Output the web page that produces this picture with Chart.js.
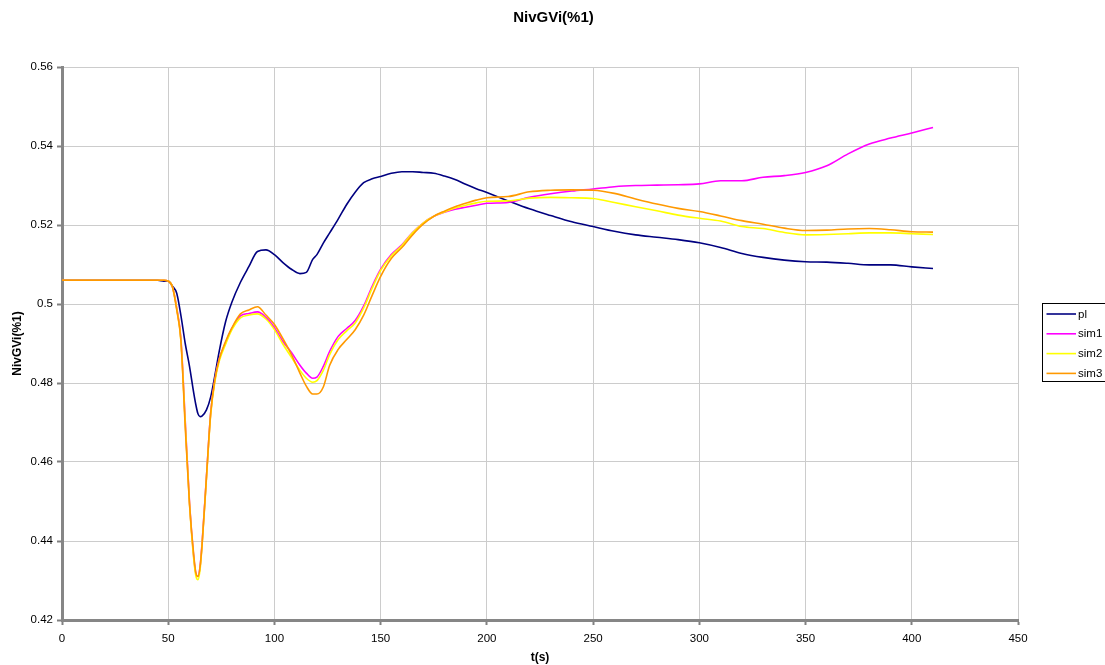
<!DOCTYPE html>
<html>
<head>
<meta charset="utf-8">
<title>NivGVi(%1)</title>
<script src="https://cdn.jsdelivr.net/npm/chart.js@4/dist/chart.umd.min.js"></script>
<style>
  html, body { margin: 0; padding: 0; background: #fff; overflow: hidden; }
  canvas { display: block; }
</style>
</head>
<body>
<canvas id="chart" width="1105" height="665"></canvas>
<script>
// Labels
const chartTitle = 'NivGVi(%1)';
const xTitle = 't(s)';
const yTitle = 'NivGVi(%1)';
const seriesNames = ['pl', 'sim1', 'sim2', 'sim3'];
const seriesColors = ['#000080', '#ff00ff', '#ffff00', '#ff9900'];

// Axis ranges and tick steps
const xMin = 0, xMax = 450, xStep = 50;
const yMin = 0.42, yMax = 0.56, yStep = 0.02;

// Sample times (s)
const time = [0, 45, 48, 50, 52, 54, 56, 58, 60, 62,
  63, 64, 65, 66, 68, 70, 72, 74, 77, 80,
  84, 88, 92, 96, 100, 104, 108, 112, 115, 118,
  120, 123, 126, 130, 134, 138, 142, 146, 150, 155,
  160, 165, 170, 175, 180, 185, 190, 195, 200, 210,
  220, 230, 240, 250, 260, 270, 280, 290, 300, 310,
  320, 330, 340, 350, 360, 370, 380, 390, 400, 410];

// Measured level
const pl = [0.506, 0.506, 0.5058, 0.5058, 0.5045, 0.5027, 0.497, 0.490, 0.4843, 0.4775,
  0.4745, 0.4722, 0.4715, 0.4717, 0.4732, 0.4765, 0.482, 0.488, 0.4955, 0.5005,
  0.5055, 0.5095, 0.5133, 0.5137, 0.5125, 0.5105, 0.5088, 0.5077, 0.508, 0.5113,
  0.5125, 0.5154, 0.518, 0.5215, 0.5252, 0.5283, 0.5307, 0.5317, 0.5323, 0.5331,
  0.5335, 0.5335, 0.5333, 0.5331, 0.5324, 0.5315, 0.5303, 0.5292, 0.5282, 0.5261,
  0.5241, 0.5224, 0.5208, 0.5196, 0.5184, 0.5175, 0.5169, 0.5163, 0.5155, 0.5143,
  0.5128, 0.5118, 0.5111, 0.5107, 0.5106, 0.5103, 0.5099, 0.5099, 0.5094, 0.509];

// Simulation runs
const sim1 = [0.506, 0.506, 0.506, 0.5058, 0.5043, 0.499, 0.491, 0.4705, 0.450, 0.436,
  0.4318, 0.431, 0.4335, 0.440, 0.4563, 0.4725, 0.481, 0.486, 0.4902, 0.4938,
  0.497, 0.4976, 0.498, 0.4966, 0.494, 0.4905, 0.4877, 0.4845, 0.4825, 0.4812,
  0.4815, 0.4842, 0.488, 0.4918, 0.4938, 0.4958, 0.4995, 0.5045, 0.5088, 0.5125,
  0.515, 0.5181, 0.5205, 0.5222, 0.5232, 0.524, 0.5245, 0.525, 0.5255, 0.5257,
  0.527, 0.5279, 0.5286, 0.5291, 0.5297, 0.53, 0.5301, 0.5302, 0.5304, 0.5312,
  0.5312, 0.5321, 0.5325, 0.5333, 0.535, 0.538, 0.5405, 0.542, 0.5433, 0.5447];

const sim2 = [0.506, 0.506, 0.506, 0.5058, 0.5043, 0.4988, 0.4905, 0.470, 0.4495, 0.4355,
  0.4312, 0.4302, 0.4328, 0.4395, 0.4558, 0.472, 0.4805, 0.4855, 0.4898, 0.4935,
  0.4965, 0.4972, 0.4975, 0.4962, 0.4935, 0.4898, 0.4865, 0.4832, 0.4812, 0.4802,
  0.4806, 0.4832, 0.4872, 0.491, 0.4932, 0.4952, 0.499, 0.504, 0.5085, 0.5122,
  0.5148, 0.518, 0.5205, 0.5222, 0.5233, 0.5243, 0.525, 0.5256, 0.526, 0.5261,
  0.5268, 0.527, 0.5269, 0.5267, 0.5257, 0.5246, 0.5236, 0.5225, 0.5217, 0.521,
  0.5196, 0.5191, 0.5181, 0.5175, 0.5176, 0.5178, 0.518, 0.518, 0.5178, 0.5176];

const sim3 = [0.506, 0.506, 0.506, 0.5058, 0.5043, 0.4985, 0.4905, 0.469, 0.4495, 0.4365,
  0.432, 0.431, 0.4335, 0.4395, 0.4563, 0.4725, 0.481, 0.486, 0.4905, 0.494,
  0.4975, 0.4985, 0.4993, 0.4972, 0.4948, 0.4912, 0.4872, 0.4825, 0.4792, 0.4772,
  0.4772, 0.479, 0.4845, 0.4885, 0.491, 0.4935, 0.4972, 0.5022, 0.507, 0.5115,
  0.5143, 0.5175, 0.5202, 0.5222, 0.5235, 0.5246, 0.5255, 0.5263, 0.5269, 0.5272,
  0.5284, 0.5288, 0.5289, 0.5288, 0.528, 0.5266, 0.5253, 0.5242, 0.5234, 0.5223,
  0.5211, 0.5202, 0.5192, 0.5186, 0.5187, 0.519, 0.5191, 0.5188, 0.5183, 0.5182];

const seriesValues = [pl, sim1, sim2, sim3];

const FONT = '"Liberation Sans", Arial, Helvetica, sans-serif';

// Later series are drawn on top of earlier ones
const datasets = seriesNames.map((name, i) => ({
  label: name,
  data: time.map((t, k) => ({ x: t, y: seriesValues[i][k] })),
  borderColor: seriesColors[i],
  backgroundColor: seriesColors[i],
  borderWidth: 1.6,
  pointRadius: 0,
  fill: false,
  cubicInterpolationMode: 'monotone',
  order: seriesNames.length - 1 - i
}));

// Chart title and boxed legend at the right
const decorations = {
  id: 'decorations',
  afterDraw(chart) {
    const ctx = chart.ctx;
    ctx.save();
    ctx.fillStyle = '#000';
    ctx.font = 'bold 15px ' + FONT;
    ctx.textAlign = 'center';
    ctx.textBaseline = 'middle';
    ctx.fillText(chartTitle, chart.width / 2 + 1, 18);

    const boxX = 1042.5, boxY = 303.5, boxW = 70, boxH = 78, rowH = 19.8;
    ctx.fillStyle = '#fff';
    ctx.fillRect(boxX, boxY, boxW, boxH);
    ctx.strokeStyle = '#000';
    ctx.lineWidth = 1;
    ctx.strokeRect(boxX, boxY, boxW, boxH);
    ctx.font = '11.5px ' + FONT;
    ctx.textAlign = 'left';
    chart.data.datasets.forEach((d, i) => {
      const y = 314 + i * rowH;
      ctx.strokeStyle = d.borderColor;
      ctx.lineWidth = 1.6;
      ctx.beginPath();
      ctx.moveTo(1046.5, y);
      ctx.lineTo(1076, y);
      ctx.stroke();
      ctx.fillStyle = '#000';
      ctx.fillText(d.label, 1078, y + 0.5);
    });
    ctx.restore();
  }
};

new Chart(document.getElementById('chart'), {
  type: 'line',
  data: { datasets },
  options: {
    responsive: false,
    animation: false,
    devicePixelRatio: 1,
    layout: { padding: { top: 67, right: 87, left: 0, bottom: 0 } },
    plugins: {
      legend: { display: false },
      title: { display: false },
      tooltip: { enabled: false }
    },
    scales: {
      x: {
        type: 'linear',
        min: xMin,
        max: xMax,
        ticks: {
          stepSize: xStep,
          color: '#000',
          font: { family: FONT, size: 11.5 },
          padding: 7,
          maxRotation: 0
        },
        grid: { color: '#cccccc', lineWidth: 1, tickColor: '#808080', tickLength: 5, tickWidth: 2 },
        border: { display: true, color: '#868686', width: 3 },
        title: {
          display: true,
          text: xTitle,
          color: '#000',
          font: { family: FONT, size: 12, weight: 'bold' },
          padding: { top: 0, bottom: 0 }
        },
        afterFit(scale) { scale.height = 45; }
      },
      y: {
        type: 'linear',
        min: yMin,
        max: yMax,
        ticks: {
          stepSize: yStep,
          color: '#000',
          font: { family: FONT, size: 11.5 },
          padding: 4,
          callback: v => String(Number(v.toFixed(2)))
        },
        grid: { color: '#cccccc', lineWidth: 1, tickColor: '#808080', tickLength: 5, tickWidth: 2 },
        border: { display: true, color: '#868686', width: 3 },
        title: {
          display: true,
          text: yTitle,
          color: '#000',
          font: { family: FONT, size: 12, weight: 'bold' },
          padding: { top: 10, bottom: 0 }
        },
        afterFit(scale) { scale.width = 62; }
      }
    }
  },
  plugins: [decorations]
});
</script>
</body>
</html>
